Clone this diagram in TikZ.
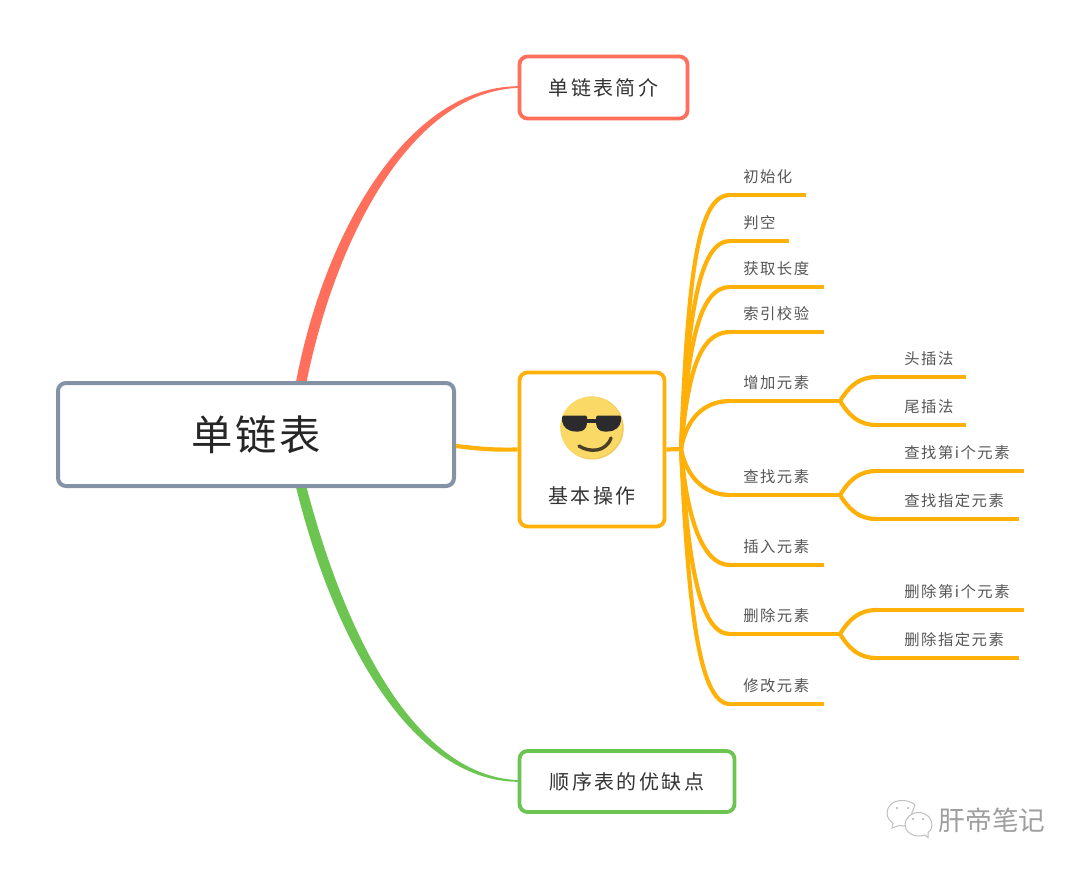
\documentclass[tikz,border=0pt]{standalone}
\usepackage{fontspec}
\newfontfamily\cjk[LetterSpace=12]{Noto Sans CJK SC}
\newfontfamily\cjkleaf[LetterSpace=10]{Noto Sans CJK SC}
\newfontfamily\cjkroot[LetterSpace=6]{Noto Sans CJK SC}
\newfontfamily\cjkmark{Noto Sans CJK SC}
\newdimen\px \px=0.75pt
\definecolor{org}{HTML}{FFB10A}
\definecolor{redc}{HTML}{FF6F5B}
\definecolor{grn}{HTML}{6CC551}
\definecolor{rootc}{HTML}{8492A6}
\definecolor{leaftx}{HTML}{555555}
\definecolor{smile}{HTML}{FBD966}
\definecolor{smiledk}{HTML}{EFC95A}
\definecolor{glasses}{HTML}{2B2B2D}
\definecolor{mouth}{HTML}{4A4028}
\tikzset{
  rootbox/.style={draw=rootc,line width=4\px,rounded corners=8\px,fill=white,minimum width=396\px,minimum height=103\px,inner sep=0pt,text=black!85,font=\cjkroot\fontsize{31}{37}\selectfont},
  topic/.style={line width=3.8\px,rounded corners=8\px,fill=white,inner sep=0pt,text=black!80,font=\cjk\fontsize{15}{18}\selectfont},
  twig/.style={draw=org,line width=4.2\px,line cap=butt},
  leaftext/.style={inner xsep=0pt,inner ysep=0pt,anchor=south west,align=left,text=leaftx,font=\cjkleaf\fontsize{11.5}{14}\selectfont,text height=11\px,text depth=3\px},
}
% name, x, y (of the rule), rule length, text indent, text
\newcommand\leaf[6]{\node[leaftext,text width=#4\px,yshift=9\px] (#1) at (#2,#3) {\hspace*{#5\px}#6};
 \coordinate (#1a) at (#2,#3); \coordinate (#1b) at (#2+#4,#3);
 \draw[twig] (#1a) -- (#1b);}
\begin{document}
\begin{tikzpicture}[x=0.75pt,y=-0.75pt]
\useasboundingbox (0,0) rectangle (1080,868);
\coordinate (hub) at (681,449);
\coordinate (redL) at (296,382); \coordinate (redR) at (306.5,382);
\coordinate (grnL) at (296,487); \coordinate (grnR) at (306.5,487);
\coordinate (redT) at (521,86.2); \coordinate (redU) at (521,87.8);
\coordinate (grnT) at (521,780.2); \coordinate (grnU) at (521,781.8);
\fill[redc] (redL) .. controls (324,233) and (408,84.5) .. (redT) -- (redU) .. controls (412,89.5) and (336,237) .. (redR) -- cycle;
\fill[grn] (grnL) .. controls (334,642) and (413,783.5) .. (grnU) -- (grnT) .. controls (417,778.5) and (346,638) .. (grnR) -- cycle;
\node[rootbox] (root) at (256,434.5) {单链表};
\node[topic,draw=redc,minimum width=168\px,minimum height=62\px] (t1) at (603.5,87.5) {单链表简介};
\node[topic,draw=grn,minimum width=215\px,minimum height=61\px] (t3) at (627,781.5) {顺序表的优缺点};
\node[topic,draw=org,minimum width=145\px,minimum height=154\px] (t2) at (592,449.5) {};
\node[inner sep=0pt,text=black!80,font=\cjk\fontsize{15}{18}\selectfont] (t2t) at (592,496) {基本操作};
\draw[twig] (root.east |- 0,446) .. controls (480,449) and (495,450) .. (t2.west);
\draw[twig] (t2.east) -- (hub);
% emoji
\fill[smiledk] (592.2,428) circle (31.5);
\fill[smile] (591.2,427.5) circle (31);
\fill[glasses,rounded corners=1.5\px] (562,415.5) -- (587,415.5) -- (587,423) .. controls (586,429) and (583,431.5) .. (577,431.5) .. controls (568,431.5) and (563,427) .. (562,420) -- cycle;
\fill[glasses,rounded corners=1.5\px] (596,415.5) -- (621,415.5) -- (621,420) .. controls (620,427) and (615,431.5) .. (606,431.5) .. controls (600,431.5) and (597,429) .. (596,423) -- cycle;
\fill[glasses] (586,418.5) rectangle (597,423);
\draw[mouth,line width=3.4\px,line cap=round] (579,446) .. controls (590,453) and (606,452) .. (611,438);
% leaves
\leaf{a}{730}{195}{76}{13}{初始化}
\leaf{b}{730}{241}{59}{13}{判空}
\leaf{c}{730}{287}{94}{13}{获取长度}
\leaf{d}{730}{332}{94}{13}{索引校验}
\leaf{e}{730}{401}{110}{13}{增加元素}
\leaf{f}{730}{495}{110}{13}{查找元素}
\leaf{g}{730}{565}{94}{13}{插入元素}
\leaf{h}{730}{634}{110}{13}{删除元素}
\leaf{i}{730}{704}{94}{13}{修改元素}
\leaf{e1}{877}{377}{89}{27}{头插法}
\leaf{e2}{877}{425}{89}{27}{尾插法}
\leaf{f1}{877}{471}{147}{27}{查找第i个元素}
\leaf{f2}{877}{519}{142}{27}{查找指定元素}
\leaf{h1}{877}{610}{147}{27}{删除第i个元素}
\leaf{h2}{877}{658}{142}{27}{删除指定元素}
\draw[twig] (hub) .. controls (688,272) and (698,195) .. (aa);
\draw[twig] (hub) .. controls (688,310) and (700,241) .. (ba);
\draw[twig] (hub) .. controls (688,341) and (700,287) .. (ca);
\draw[twig] (hub) .. controls (688,371) and (700,332) .. (da);
\draw[twig] (hub) .. controls (686,420) and (703,401) .. (ea);
\draw[twig] (hub) .. controls (686,475) and (703,495) .. (fa);
\draw[twig] (hub) .. controls (686,510) and (700,565) .. (ga);
\draw[twig] (hub) .. controls (688,565) and (700,634) .. (ha);
\draw[twig] (hub) .. controls (688,600) and (698,704) .. (ia);
\draw[twig] (eb) .. controls (850,385) and (860,377) .. (e1a);
\draw[twig] (eb) .. controls (850,417) and (860,425) .. (e2a);
\draw[twig] (fb) .. controls (850,479) and (860,471) .. (f1a);
\draw[twig] (fb) .. controls (850,511) and (860,519) .. (f2a);
\draw[twig] (hb) .. controls (850,618) and (860,610) .. (h1a);
\draw[twig] (hb) .. controls (850,650) and (860,658) .. (h2a);
% watermark
\begin{scope}[draw=black!25,line width=1\px,fill=white]
\draw (902,800.5) .. controls (893,800.5) and (887,806) .. (887,813) .. controls (887,818) and (890,821) .. (893,823) -- (892,828) -- (899,825.5) .. controls (901,826) and (904,826) .. (907,825.5) -- (915,805) .. controls (912,802) and (907,800.5) .. (902,800.5) -- cycle;
\filldraw (918.5,812.5) .. controls (911,812.5) and (905,818) .. (905,824.5) .. controls (905,831) and (911,836) .. (918.5,836) .. controls (921,836) and (923,835.5) .. (925,835) -- (928,837.5) -- (928,832.5) .. controls (931,830.5) and (932,828) .. (932,824.5) .. controls (932,818) and (926,812.5) .. (918.5,812.5) -- cycle;
\fill[black!30] (897,808) circle (1.2) (908,808) circle (1.2) (913,819) circle (1.2) (923,819) circle (1.2);
\end{scope}
\node[inner sep=0pt,text=black!38,font=\cjkmark\fontsize{20}{24}\selectfont] (mark) at (992,820.5) {肝帝笔记};
\end{tikzpicture}
\end{document}
